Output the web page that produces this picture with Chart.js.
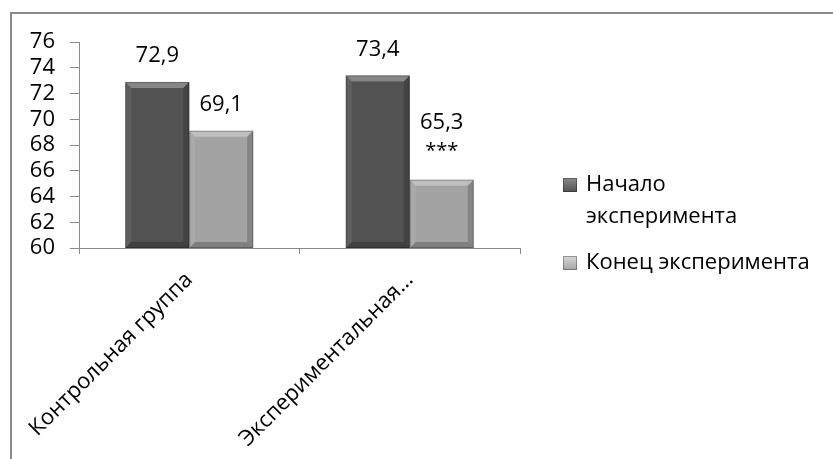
<!DOCTYPE html>
<html lang="ru">
<head>
<meta charset="UTF-8">
<title>Начало и конец эксперимента</title>
<script src="https://cdn.jsdelivr.net/npm/chart.js"></script>
<style>
    body { margin: 0; background: #fff; }
    .chart-container { width: 833px; height: 459px; position: relative; }
</style>
</head>
<body>
<div class="chart-container">
    <canvas id="groupChart" width="833" height="459"></canvas>
</div>
<script>
// Data
const categories = ['Контрольная группа', 'Экспериментальная группа'];
const seriesNames = ['Начало эксперимента', 'Конец эксперимента'];
const startValues = [72.9, 73.4];
const endValues = [69.1, 65.3];
const endMarks = ['', '***'];
const legendLines = [['Начало', 'эксперимента'], ['Конец эксперимента']];
const yMin = 60, yMax = 76, yStep = 2;

const FONT = '"Open Sans", Lato, sans-serif';
const FSIZE = 22;
const barColors = ['#525252', '#a3a3a3'];

// outer frame (only top/left edges are inside the window)
const framePlugin = {
    id: 'frame',
    beforeDraw(chart) {
        const ctx = chart.ctx;
        ctx.save();
        ctx.strokeStyle = '#8a8a8a';
        ctx.lineWidth = 2;
        ctx.strokeRect(11, 13, chart.width + 20, chart.height + 20);
        ctx.restore();
    }
};

// bevelled edges on each bar
const bevelPlugin = {
    id: 'bevel',
    afterDatasetsDraw(chart) {
        const ctx = chart.ctx;
        ctx.save();
        chart.data.datasets.forEach((ds, di) => {
            chart.getDatasetMeta(di).data.forEach(bar => {
                const l = bar.x - bar.width / 2, r = bar.x + bar.width / 2;
                const t = bar.y, b = Math.min(bar.base, chart.chartArea.bottom), s = 6;
                const shade = (pts, col) => {
                    ctx.beginPath();
                    ctx.moveTo(pts[0][0], pts[0][1]);
                    pts.slice(1).forEach(p => ctx.lineTo(p[0], p[1]));
                    ctx.closePath();
                    ctx.fillStyle = col;
                    ctx.fill();
                };
                shade([[l, t], [r, t], [r - s, t + s], [l + s, t + s]], 'rgba(255,255,255,0.30)');
                shade([[l, t], [l + s, t + s], [l + s, b - s], [l, b]], 'rgba(255,255,255,0.08)');
                shade([[r, t], [r, b], [r - s, b - s], [r - s, t + s]], 'rgba(0,0,0,0.18)');
                shade([[l, b], [l + s, b - s], [r - s, b - s], [r, b]], 'rgba(0,0,0,0.22)');
                ctx.strokeStyle = 'rgba(0,0,0,0.25)';
                ctx.lineWidth = 1;
                ctx.strokeRect(l + 0.5, t + 0.5, r - l - 1, b - t - 1);
            });
        });
        ctx.restore();
    }
};

// value labels above the bars
const valueLabelPlugin = {
    id: 'valueLabels',
    afterDatasetsDraw(chart) {
        const ctx = chart.ctx;
        ctx.save();
        ctx.font = FSIZE + 'px ' + FONT;
        ctx.fillStyle = '#000';
        ctx.textAlign = 'center';
        ctx.textBaseline = 'middle';
        chart.data.datasets.forEach((ds, di) => {
            chart.getDatasetMeta(di).data.forEach((bar, i) => {
                const txt = ds.data[i].toFixed(1).replace('.', ',');
                const mark = ds.marks ? ds.marks[i] : '';
                if (mark) {
                    ctx.font = (FSIZE - 2) + 'px ' + FONT;
                    ctx.fillText(mark, bar.x, bar.y - 28);
                    ctx.font = FSIZE + 'px ' + FONT;
                    ctx.fillText(txt, bar.x, bar.y - 57);
                } else {
                    ctx.fillText(txt, bar.x, bar.y - 26);
                }
            });
        });
        ctx.restore();
    }
};

// legend on the right
const sideLegendPlugin = {
    id: 'sideLegend',
    afterDraw(chart) {
        const ctx = chart.ctx;
        ctx.save();
        ctx.font = FSIZE + 'px ' + FONT;
        ctx.textBaseline = 'middle';
        ctx.textAlign = 'left';
        let y = 185;
        chart.data.datasets.forEach((ds, di) => {
            const x = 563;
            const g = ctx.createLinearGradient(0, y - 7, 0, y + 7);
            g.addColorStop(0, di === 0 ? '#8a8a8a' : '#d8d8d8');
            g.addColorStop(1, ds.backgroundColor);
            ctx.fillStyle = g;
            ctx.fillRect(x, y - 7, 14, 14);
            ctx.strokeStyle = 'rgba(0,0,0,0.3)';
            ctx.strokeRect(x + 0.5, y - 6.5, 13, 13);
            ctx.fillStyle = '#000';
            legendLines[di].forEach((line, li) => {
                ctx.fillText(line, 586, y + li * 32);
            });
            y += (legendLines[di].length - 1) * 32 + 46;
        });
        ctx.restore();
    }
};

const ctx = document.getElementById('groupChart').getContext('2d');
new Chart(ctx, {
    type: 'bar',
    data: {
        labels: categories,
        datasets: [
            { label: seriesNames[0], data: startValues, backgroundColor: barColors[0] },
            { label: seriesNames[1], data: endValues, backgroundColor: barColors[1], marks: endMarks }
        ]
    },
    options: {
        responsive: false,
        animation: false,
        layout: { padding: { left: 0, top: 42, right: 313, bottom: 0 } },
        datasets: { bar: { categoryPercentage: 0.58, barPercentage: 1.0 } },
        plugins: { legend: { display: false }, tooltip: { enabled: false } },
        scales: {
            x: {
                grid: { display: true, offset: true, drawOnChartArea: false, drawTicks: true, tickLength: 6, color: '#8a8a8a' },
                border: { color: '#8a8a8a', width: 1 },
                ticks: {
                    color: '#000',
                    font: { family: FONT, size: FSIZE },
                    minRotation: 45,
                    maxRotation: 45,
                    autoSkip: false,
                    padding: 13,
                    callback(v, i) {
                        const s = categories[i];
                        return s.length > 20 ? s.split(' ')[0] + '…' : s;
                    }
                },
                afterFit(scale) { scale.height = 211; }
            },
            y: {
                min: yMin,
                max: yMax,
                grid: { display: true, drawOnChartArea: false, drawTicks: true, tickLength: 9, color: '#8a8a8a' },
                border: { color: '#8a8a8a', width: 1 },
                ticks: {
                    stepSize: yStep,
                    autoSkip: false,
                    color: '#000',
                    font: { family: FONT, size: FSIZE },
                    padding: 15
                },
                afterFit(scale) { scale.width = 79; }
            }
        }
    },
    plugins: [framePlugin, bevelPlugin, valueLabelPlugin, sideLegendPlugin]
});
</script>
</body>
</html>
